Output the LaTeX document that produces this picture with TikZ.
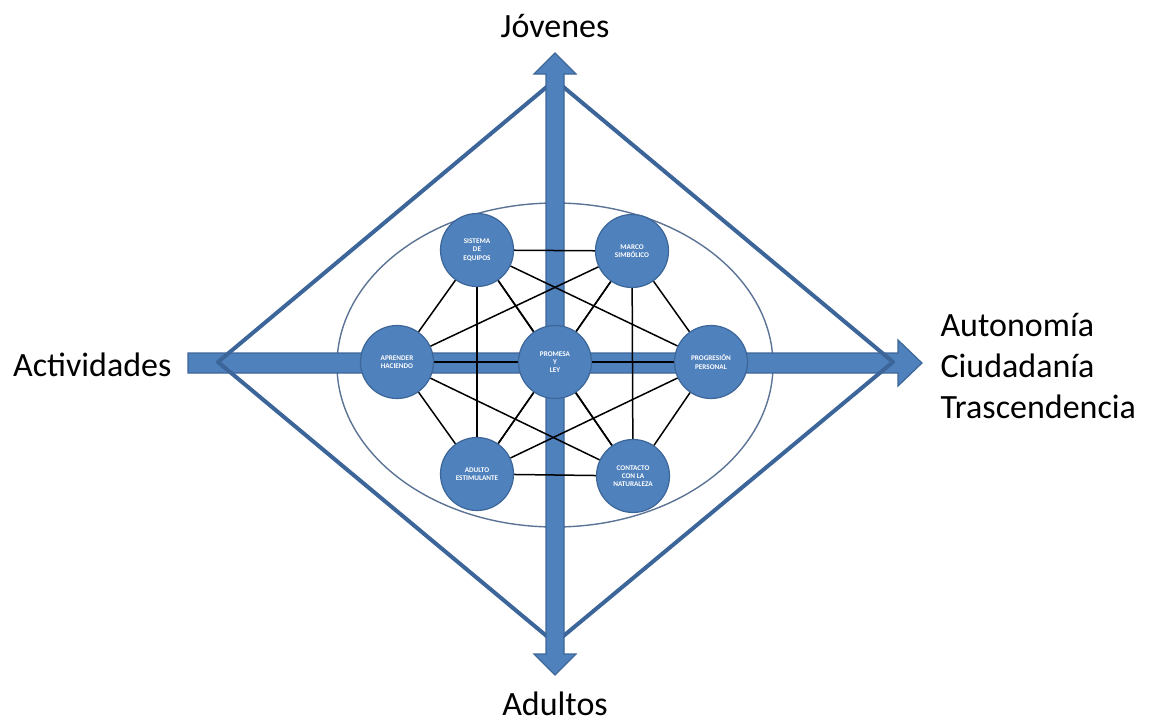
\documentclass[tikz,border=0pt]{standalone}
\usepackage{fontspec}
\setmainfont{Carlito}
\usetikzlibrary{backgrounds}
\definecolor{ballblue}{HTML}{4F81BD}
\definecolor{rimblue}{HTML}{3D6699}
\definecolor{framblue}{HTML}{3C659A}
\definecolor{ringgray}{HTML}{5B7394}
\tikzset{
  ball/.style={circle,minimum size=73pt,inner sep=0pt,fill=ballblue,draw=rimblue,line width=1.2pt,
    text=white,align=center,font=\fontsize{7.2}{8.2}\selectfont\bfseries},
  link/.style={black,line width=1.5pt},
  bar/.style={fill=ballblue,draw=rimblue,line width=1.2pt,line join=miter},
  label/.style={font=\fontsize{34}{41}\selectfont},
}

\begin{document}
\begin{tikzpicture}[x=1pt,y=-1pt]
            \useasboundingbox (0,0) rectangle (1157,723);
            \node[ball] (sistema) at (477,250) {SISTEMA\\DE\\EQUIPOS};
            \node[ball] (marco) at (632,251) {MARCO\\SIMBÓLICO};
            \node[ball] (aprender) at (397,362) {APRENDER\\HACIENDO};
            \node[ball] (promesa) at (555,362) {PROMESA\\Y\\LEY};
            \node[ball] (progresion) at (711,362) {PROGRESIÓN\\PERSONAL};
            \node[ball] (adulto) at (477,474) {ADULTO\\ESTIMULANTE};
            \node[ball] (contacto) at (633,476) {CONTACTO\\CON LA\\NATURALEZA};
            \node[label] (jovenes) at (555,26) {Jóvenes};
            \node[label] (adultos) at (555,704) {Adultos};
            \node[label,anchor=east] (actividades) at (175,365) {Actividades};
            \node[label,anchor=west,align=left] (fines) at (937,366) {Autonomía\\Ciudadanía\\Trascendencia};
            \begin{scope}[on background layer]
            \draw[ringgray,line width=1.4pt] (555,365) ellipse [x radius=218,y radius=162];
            \draw[bar] (188,353) --(898,353) --(898,340) --(922,363) --(898,386) --(898,373) --(188,373) --cycle;
            \draw[framblue,line width=4pt,line join=round] (555,80) --(893,362) --(555,643) --(218,362) --cycle;
            \draw[bar] (555,53) --(576,74) --(564,74) --(564,654) --(576,654) --(555,675) --(534,654) --(546,654) --(546,74) --(534,74) --cycle;
            \foreach \a [count=\i] in {sistema,marco,aprender,promesa,progresion,adulto,contacto}
              \foreach \b [count=\j] in {sistema,marco,aprender,promesa,progresion,adulto,contacto}
                {\ifnum\i<\j \draw[link] (\a) -- (\b); \fi}
            \end{scope}
\end{tikzpicture}
\end{document}
